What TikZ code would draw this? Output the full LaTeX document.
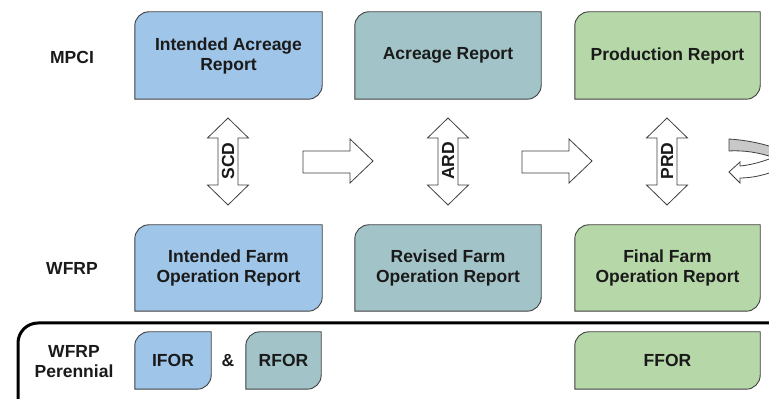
\documentclass[tikz,border=0pt]{standalone}
\usepackage{fontspec}
\setmainfont{Liberation Sans}
\usetikzlibrary{backgrounds}
\definecolor{cblue}{HTML}{9FC5E8}
\definecolor{cteal}{HTML}{A2C4C9}
\definecolor{cgreen}{HTML}{B6D7A8}
\definecolor{edge}{HTML}{404040}
\definecolor{txt}{HTML}{1A1A1A}
\definecolor{band}{HTML}{C8C8C8}
\newcommand\dshape[2]{%
  \filldraw[fill=#2, draw=edge, line width=0.9pt]
    (#1.south west) -- ([yshift=-14pt]#1.north west)
    arc[start angle=180,end angle=90,radius=14pt] -- (#1.north east)
    -- ([yshift=14pt]#1.south east)
    arc[start angle=0,end angle=-90,radius=14pt] -- cycle;}
\newcommand\vdarrow[1]{%
  \draw[edge, line width=0.8pt, fill=white]
    (#1,281) -- (#1+20.5,261) -- (#1+10,261) -- (#1+10,214) -- (#1+20.5,214)
    -- (#1,194) -- (#1-20.5,214) -- (#1-10,214) -- (#1-10,261) -- (#1-20.5,261) -- cycle;}
\newcommand\rarrow[2]{%
  \draw[edge, line width=0.8pt, fill=white]
    (#1,248) -- (#2-23,248) -- (#2-23,260) -- (#2,238) -- (#2-23,216)
    -- (#2-23,226) -- (#1,226) -- cycle;}
\begin{document}
\begin{tikzpicture}[x=1pt,y=1pt,
  lbl/.style={font=\fontsize{17.5}{20}\selectfont\bfseries, text=txt, align=center, inner sep=0pt},
  box/.style={lbl, minimum height=#1, inner sep=0pt},
  box/.default=87pt]
\useasboundingbox (0,0) rectangle (769,399);
\clip (0,0) rectangle (769,399);

% row labels
\node[lbl] (mpci) at (72,342) {MPCI};
\node[lbl] (wfrp) at (72,131) {WFRP};
\node[lbl] (wfrpp) at (74,37) {WFRP\\Perennial};

% row 1
\node[box, minimum width=187pt] (iar) at (228.5,343.5) {Intended Acreage\\Report};
\node[box, minimum width=186pt] (ar) at (448,343.5) {Acreage Report};
\node[box, minimum width=185pt] (pr) at (667.5,343.5) {Production Report};
% row 2
\node[box=86pt, minimum width=187pt] (ifor) at (228.5,131) {Intended Farm\\Operation Report};
\node[box=86pt, minimum width=186pt] (rfor) at (448,131) {Revised Farm\\Operation Report};
\node[box=86pt, minimum width=185pt] (ffor) at (667.5,131) {Final Farm\\Operation Report};
% row 3
\node[box=57pt, minimum width=76pt] (sifor) at (173,38.5) {IFOR};
\node[lbl] (amp) at (228,38.5) {\&};
\node[box=57pt, minimum width=75pt] (srfor) at (283.5,38.5) {RFOR};
\node[box=57pt, minimum width=185pt] (sffor) at (667.5,38.5) {FFOR};

\begin{scope}[on background layer]
\fill[white] (0,0) rectangle (769,399);
\dshape{iar}{cblue}
\dshape{ar}{cteal}
\dshape{pr}{cgreen}
\dshape{ifor}{cblue}
\dshape{rfor}{cteal}
\dshape{ffor}{cgreen}
\dshape{sifor}{cblue}
\dshape{srfor}{cteal}
\dshape{sffor}{cgreen}
\end{scope}

% perennial frame
\draw[black, line width=3pt, rounded corners=20pt] (18,-20) rectangle (820,76);

% vertical double arrows
\vdarrow{228}
\vdarrow{448}
\vdarrow{667}
\node[lbl, rotate=90] (scd) at (228,238) {SCD};
\node[lbl, rotate=90] (ard) at (448,238) {ARD};
\node[lbl, rotate=90] (prd) at (667,238) {PRD};

% right arrows
\rarrow{303}{373}
\rarrow{522}{592}

% U-turn arrow (cut off at the right edge)
\draw[edge, line width=0.8pt, fill=band]
  (729,260) -- (729,248) .. controls (745,249) and (760,246) .. (772,242)
  -- (772,252) .. controls (760,256) and (745,259) .. (729,260) -- cycle;
\draw[edge, line width=0.8pt, fill=white]
  (729,227) -- (740,237) -- (740,233) .. controls (752,234) and (764,238) .. (772,241)
  -- (772,227) .. controls (764,224) and (752,221) .. (740,221) -- (740,216) -- cycle;
\end{tikzpicture}
\end{document}
